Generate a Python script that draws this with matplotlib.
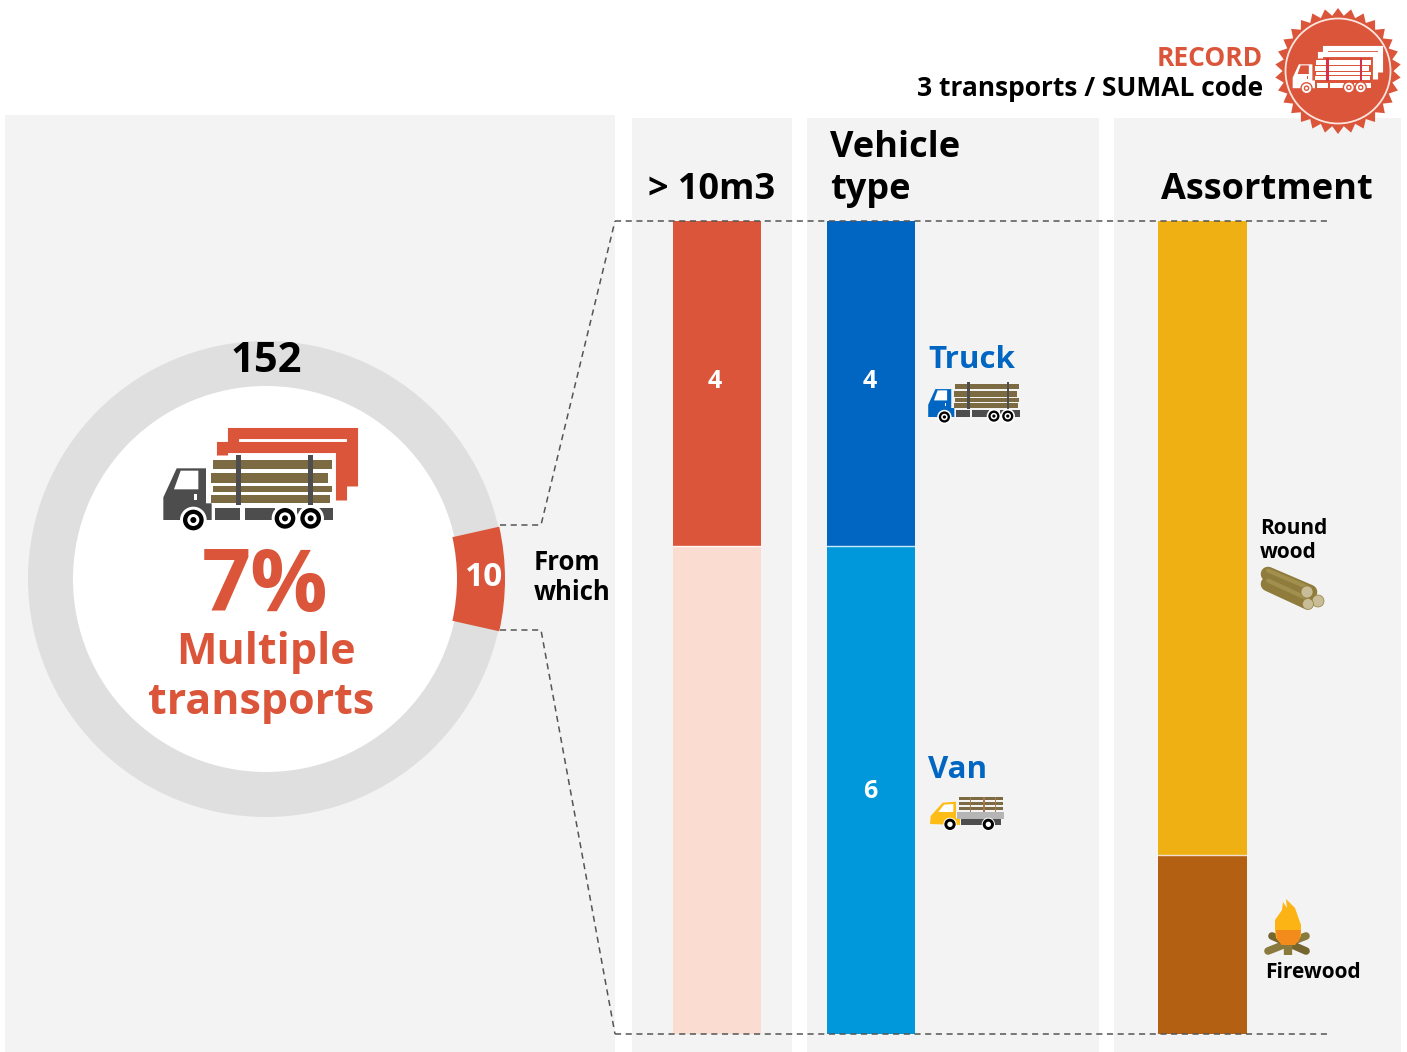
"""Multiple transports infographic: donut of SUMAL codes plus three breakdown bars."""
import numpy as np
import matplotlib
matplotlib.use("Agg")
import matplotlib.pyplot as plt
from matplotlib.patches import Circle, Ellipse, Polygon, Rectangle, Wedge

plt.rcParams["font.family"] = ["Open Sans", "DejaVu Sans"]

TOTAL = 152
MULTIPLE = 10
OVER_10M3 = [4, 6]
VEHICLE = [4, 6]
VEHICLE_NAMES = ["Truck", "Van"]
ASSORTMENT = [7.8, 2.2]

RED = "#da553a"
PALE = "#fbdcd1"
BLUE = "#0066c2"
SKY = "#0098db"
GOLD = "#eeb012"
BROWN = "#b46013"
GREY = "#dfdfdf"
PANEL = "#f3f3f3"
DARK = "#4d4d4d"
LOG = "#7b6a42"

BAR_TOP, BAR_BOTTOM = 221, 1034


def txt(ax, x, y, s, size, color="black", ha="left", **kw):
    ax.text(x, y, s, fontsize=size, color=color, ha=ha, va="center",
            fontweight="bold", **kw)


def stacked(ax, x, width, values, colors):
    unit = (BAR_BOTTOM - BAR_TOP) / sum(values)
    y = BAR_TOP
    edges = []
    for v, c in zip(values, colors):
        ax.bar(x, v * unit, width, bottom=y, align="edge", color=c, edgecolor="none", zorder=3)
        y += v * unit
        edges.append(y)
    # thin light seam between the segments
    ax.plot([x, x + width], [edges[0], edges[0]], color="white", lw=1, alpha=.8, zorder=4)
    return edges


def truck(ax, x0, y0, s, cab=DARK, body=DARK, wood=LOG, stake=DARK, frame=None,
          glass="white", tyre="black", hub="white", z=5):
    """Log truck drawn in a 660x360 local box, scaled by s."""
    def P(pts):
        return [(x0 + a * s, y0 + b * s) for a, b in pts]

    def R(a, b, w, h, c, zz=z):
        ax.add_patch(Rectangle((x0 + a * s, y0 + b * s), w * s, h * s, color=c, lw=0, zorder=zz))

    if frame:
        for pts in ([(248, 65), (248, 40), (605, 40), (605, 198)],
                    [(215, 105), (215, 80), (573, 80), (573, 240)]):
            xy = np.array(P(pts))
            ax.plot(xy[:, 0], xy[:, 1], color=frame, lw=max(1.2, 24 * s), zorder=z,
                    solid_joinstyle="miter", solid_capstyle="butt")
    ax.add_patch(Polygon(P([(40, 295), (40, 232), (80, 145), (168, 145), (168, 250),
                            (185, 250), (185, 300), (40, 300)]), color=cab, lw=0, zorder=z))
    ax.add_patch(Polygon(P([(72, 208), (92, 152), (145, 152), (145, 208)]), color=glass, lw=0, zorder=z + 1))
    R(132, 222, 9, 18, glass, z + 1)
    for a, w in [(195, 75), (285, 90), (440, 110)]:
        R(a, 263, w, 38, body)
    for a, b, w, h in [(190, 119, 356, 28), (183, 158, 352, 30), (190, 197, 356, 20), (183, 224, 357, 24)]:
        R(a, b, w, h, wood)
    for a in (258, 475):
        R(a, 105, 15, 150, stake, z + 1)
    for a, b in [(130, 300), (405, 295), (482, 295)]:
        c = (x0 + a * s, y0 + b * s)
        ax.add_patch(Circle(c, 40 * s, color=hub, lw=0, zorder=z + 2))
        ax.add_patch(Circle(c, 31 * s, color=tyre, lw=0, zorder=z + 3))
        ax.add_patch(Circle(c, 18 * s, color=hub, lw=0, zorder=z + 4))
        ax.add_patch(Circle(c, 9 * s, color=tyre, lw=0, zorder=z + 5))


def van(ax, x0, y0, s=1 / 3):
    """Small yellow van with a wood load, local units are zoom pixels."""
    def P(pts):
        return [(x0 + a * s, y0 + b * s) for a, b in pts]

    def R(a, b, w, h, c, z=5):
        ax.add_patch(Rectangle((x0 + a * s, y0 + b * s), w * s, h * s, color=c, lw=0, zorder=z))

    ax.add_patch(Polygon(P([(30, 132), (32, 108), (68, 68), (108, 65), (108, 115), (120, 115),
                            (120, 135)]), color="#fdbd16", lw=0, zorder=5))
    ax.add_patch(Polygon(P([(55, 96), (72, 74), (100, 72), (100, 96)]), color="white", lw=0, zorder=6))
    R(112, 96, 140, 20, "#b5b5b5")
    R(122, 116, 120, 20, DARK)
    for b in (52, 66, 80):
        R(116, b, 134, 9, LOG)
    for a in (150, 190, 225):
        R(a, 50, 4, 46, "#a8794e", 6)
    for a in (90, 205):
        c = (x0 + a * s, y0 + 133 * s)
        ax.add_patch(Circle(c, 20 * s, color="white", lw=0, zorder=7))
        ax.add_patch(Circle(c, 17 * s, color="black", lw=0, zorder=8))
        ax.add_patch(Circle(c, 8 * s, color="white", lw=0, zorder=9))


def logs(ax):
    for (x1, y1, x2, y2) in [(1268, 584, 1307, 602), (1268, 574, 1310, 592)]:
        ax.plot([x1, x2], [y1, y2], color="#8f7c3c", lw=10.5, solid_capstyle="round", zorder=5)
        ax.plot([x1, x2], [y1 - 3.5, y2 - 3.5], color="#a18f4e", lw=3, solid_capstyle="round", zorder=6)
    for c, r in [((1318, 601), 6), ((1307, 592), 6), ((1308, 604), 5.5)]:
        ax.add_patch(Circle(c, r, color="#c9bd98", ec="#8f7c3c", lw=.5, zorder=7))


def flame(ax):
    for a, b, c in [((1268, 951), (1306, 936), "#8b7a3e"), ((1306, 951), (1272, 936), "#75652f")]:
        ax.plot([a[0], b[0]], [a[1], b[1]], color=c, lw=5.5, solid_capstyle="round", zorder=5)
    ax.plot([1288, 1288], [955, 938], color="#8b7a3e", lw=6, solid_capstyle="butt", zorder=5)
    ax.add_patch(Polygon([(1275, 930), (1275, 920), (1282, 910), (1283, 902), (1287, 908), (1286, 899),
                          (1295, 908), (1301, 925), (1301, 936), (1295, 945), (1282, 945), (1276, 938)],
                         color="#fcb415", lw=0, zorder=6))
    ax.add_patch(Polygon([(1276, 930), (1301, 930), (1299, 941), (1294, 945), (1282, 945), (1277, 939)],
                         color="#f28a1c", lw=0, zorder=7))


def badge(ax, cx=1338, cy=71):
    teeth = 30
    ang = np.linspace(0, 2 * np.pi, teeth * 2, endpoint=False)
    rad = np.where(np.arange(teeth * 2) % 2 == 0, 63, 55.5)
    pts = np.c_[cx + rad * np.sin(ang), cy - rad * np.cos(ang)]
    ax.add_patch(Polygon(pts, color=RED, lw=0, zorder=5))
    ax.add_patch(Circle((cx, cy), 52.5, fc="none", ec="#fbe6df", lw=1.3, zorder=6))
    truck(ax, 1286.5, 42, .154, cab="white", body="white", wood="white", stake="#d8304a",
          frame="white", glass=RED, tyre="white", hub=RED, z=7)


fig = plt.figure(figsize=(14.07, 10.52), dpi=100)
ax = fig.add_axes([0, 0, 1, 1])
ax.set_xlim(0, 1407)
ax.set_ylim(1052, 0)
ax.axis("off")

for x, y, w in [(5, 115, 610), (632, 118, 160), (807, 118, 292), (1114, 118, 287)]:
    ax.add_patch(Rectangle((x, y), w, 1052 - y, color=PANEL, lw=0, zorder=1))

# donut: the red wedge takes its share of the total, centred on 3 o'clock
cx, cy, r_out, r_in = 266, 579, 238, 193
half = 360 * MULTIPLE / TOTAL / 2
ax.add_patch(Circle((cx, cy), r_out, color=GREY, lw=0, zorder=2))
ax.add_patch(Circle((cx, cy), r_in, color="white", lw=0, zorder=3))
ax.add_patch(Wedge((cx, cy), r_out + 1, -half - .8, half + .8, width=r_out + 1 - r_in + 2,
                   color=RED, lw=0, zorder=4))

dash = dict(color="#555555", lw=1.1, dashes=(4, 3), zorder=4)
ax.plot([615, 1330], [BAR_TOP, BAR_TOP], **dash)
ax.plot([615, 1330], [BAR_BOTTOM, BAR_BOTTOM], **dash)
ax.plot([500, 541, 615], [525, 525, BAR_TOP], **dash)
ax.plot([500, 541, 615], [630, 630, BAR_BOTTOM], **dash)

stacked(ax, 673, 88, OVER_10M3, [RED, PALE])
stacked(ax, 827, 88, VEHICLE, [BLUE, SKY])
stacked(ax, 1158, 89, ASSORTMENT, [GOLD, BROWN])

txt(ax, 266, 362, str(TOTAL), 30, ha="center", zorder=6)
txt(ax, 265, 588, "7%", 62, RED, ha="center", zorder=6)
txt(ax, 266, 652, "Multiple", 31, RED, ha="center", zorder=6)
txt(ax, 261, 702, "transports", 31, RED, ha="center", zorder=6)
txt(ax, 484, 577, str(MULTIPLE), 24, "white", ha="center", zorder=6)
txt(ax, 534, 563, "From", 18.5)
txt(ax, 534, 592, "which", 18.5)

txt(ax, 1263, 58, "RECORD", 19, RED, ha="right")
txt(ax, 1263, 89, "3 transports / SUMAL code", 19, ha="right")
txt(ax, 712, 190, "> 10m3", 26, ha="center")
txt(ax, 830, 148, "Vehicle", 26)
txt(ax, 830, 190, "type", 26)
txt(ax, 1267, 190, "Assortment", 26, ha="center")

txt(ax, 715, 382, str(OVER_10M3[0]), 18, "white", ha="center", zorder=6)
txt(ax, 870, 382, str(VEHICLE[0]), 18, "white", ha="center", zorder=6)
txt(ax, 870, 792, str(VEHICLE[1]), 18, "white", ha="center", zorder=6)
txt(ax, 928, 360, VEHICLE_NAMES[0], 22.5, BLUE)
txt(ax, 928, 770, VEHICLE_NAMES[1], 22.5, BLUE)
txt(ax, 1260, 529, "Round", 15)
txt(ax, 1260, 552, "wood", 15)
txt(ax, 1265, 972, "Firewood", 15)

truck(ax, 150, 420, 1 / 3, frame=RED)
truck(ax, 921, 363, .18, cab=BLUE)
van(ax, 920, 780)
logs(ax)
flame(ax)
badge(ax)

fig.savefig("out.png", dpi=100, facecolor="white")
plt.close(fig)
